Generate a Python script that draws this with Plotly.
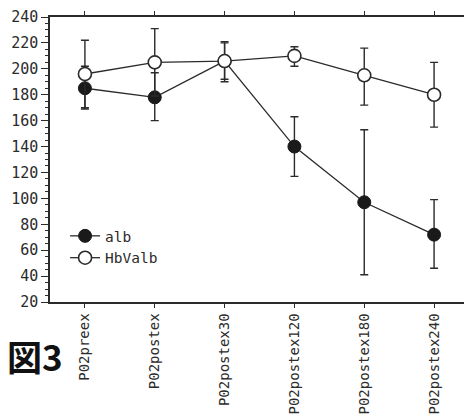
import plotly.graph_objects as go

categories = ["P02preex", "P02postex", "P02postex30", "P02postex120", "P02postex180", "P02postex240"]
alb = [185, 178, 206, 140, 97, 72]
alb_err_plus = [17, 19, 15, 23, 56, 27]
alb_err_minus = [16, 18, 16, 23, 56, 26]
hbvalb = [196, 205, 206, 210, 195, 180]
hb_err_plus = [26, 26, 14, 7, 21, 25]
hb_err_minus = [26, 26, 14, 8, 23, 25]
y_ticks = list(range(20, 241, 20))

ink = "#2b2b2b"
mono = "DejaVu Sans Mono"

fig = go.Figure()
fig.add_trace(go.Scatter(
    x=categories, y=alb, name="alb", mode="lines+markers",
    line=dict(color=ink, width=1.3),
    marker=dict(symbol="circle", size=13, color="#1a1a1a", line=dict(color="#1a1a1a", width=1)),
    error_y=dict(type="data", symmetric=False, array=alb_err_plus, arrayminus=alb_err_minus,
                 color=ink, thickness=1.4, width=4),
))
fig.add_trace(go.Scatter(
    x=categories, y=hbvalb, name="HbValb", mode="lines+markers",
    line=dict(color=ink, width=1.3),
    marker=dict(symbol="circle", size=13, color="white", line=dict(color=ink, width=1.6)),
    error_y=dict(type="data", symmetric=False, array=hb_err_plus, arrayminus=hb_err_minus,
                 color=ink, thickness=1.4, width=4),
))
# invisible trace to show the right-hand axis
fig.add_trace(go.Scatter(x=[categories[0]], y=[None], yaxis="y2", showlegend=False,
                         hoverinfo="skip", mode="markers"))

fig.update_layout(
    width=472, height=414,
    margin=dict(l=42, r=11, t=9, b=120, autoexpand=False),
    paper_bgcolor="white", plot_bgcolor="white",
    showlegend=True,
    legend=dict(x=0.036, y=0.288, xanchor="left", yanchor="top",
                bgcolor="rgba(0,0,0,0)", font=dict(family=mono, size=14.5, color=ink),
                itemwidth=30, tracegroupgap=0),
    xaxis=dict(
        type="category", range=[-0.5, 5.5], automargin=False,
        showline=True, linecolor=ink, linewidth=1.5, mirror="ticks",
        ticks="outside", ticklen=4, tickcolor=ink, tickwidth=1,
        tickangle=-90, tickfont=dict(family=mono, size=14, color=ink),
        showgrid=False, zeroline=False,
    ),
    yaxis=dict(
        range=[20, 240], tickvals=y_ticks, automargin=False,
        showline=True, linecolor=ink, linewidth=1.5,
        ticks="outside", ticklen=7, tickcolor=ink, tickwidth=1,
        minor=dict(dtick=5, ticks="outside", ticklen=3, tickcolor=ink, tickwidth=1),
        tickfont=dict(family=mono, size=15, color=ink),
        showgrid=False, zeroline=False,
    ),
    yaxis2=dict(
        range=[20, 240], overlaying="y", side="right", automargin=False,
        showline=True, linecolor=ink, linewidth=1.5,
        ticks="inside", ticklen=3, tickcolor=ink, tickwidth=1, dtick=5,
        showticklabels=False, showgrid=False, zeroline=False,
    ),
    annotations=[dict(
        text="図3", xref="paper", yref="paper", x=-0.107, y=-0.186,
        xanchor="left", yanchor="middle", showarrow=False,
        font=dict(family="Noto Sans CJK JP", size=35, color="#111", weight=700),
    )],
)

fig.write_html("out.html")
